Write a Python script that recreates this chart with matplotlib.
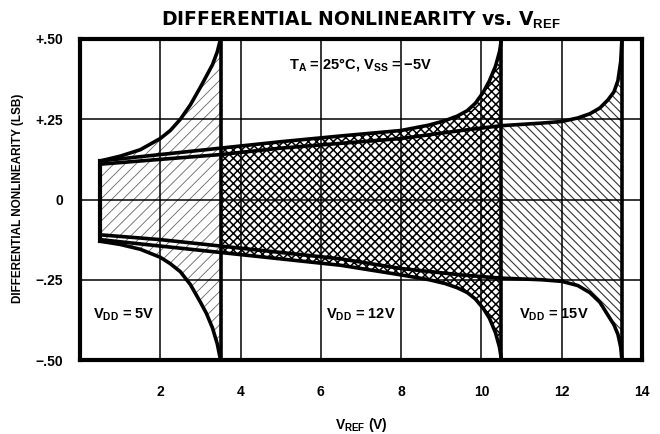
import numpy as np
import matplotlib
matplotlib.use("Agg")
import matplotlib.pyplot as plt

FONT = ['Liberation Sans', 'DejaVu Sans']
plt.rcParams['font.family'] = FONT
plt.rcParams['font.weight'] = 'bold'
plt.rcParams['mathtext.fontset'] = 'custom'
plt.rcParams['mathtext.rm'] = 'Liberation Sans:bold'
plt.rcParams['mathtext.bf'] = 'Liberation Sans:bold'
plt.rcParams['mathtext.it'] = 'Liberation Sans:bold'
plt.rcParams['hatch.color'] = 'black'

# envelopes (VREF in volts, DNL in LSB)
vdd5_x = [0.5, 1.0, 1.5, 2.0, 2.25, 2.5, 2.75, 3.0, 3.15, 3.3, 3.42, 3.5]
vdd5_hi = [0.12, 0.135, 0.155, 0.19, 0.215, 0.25, 0.295, 0.35, 0.385, 0.42, 0.46, 0.5]
vdd5_lo = [-0.13, -0.14, -0.155, -0.18, -0.2, -0.225, -0.265, -0.32, -0.355, -0.4, -0.45, -0.5]

vdd12_x = [0.5, 2.0, 3.5, 5.0, 6.5, 8.0, 8.7, 9.1, 9.4, 9.65, 9.85, 10.05, 10.2, 10.35, 10.45, 10.5]
vdd12_hi = [0.12, 0.14, 0.16, 0.18, 0.198, 0.215, 0.232, 0.246, 0.26, 0.277, 0.3, 0.335, 0.37, 0.415, 0.46, 0.5]
vdd12_lo = [-0.125, -0.145, -0.165, -0.185, -0.205, -0.235, -0.25, -0.262, -0.275, -0.29, -0.31, -0.34, -0.37, -0.415, -0.46, -0.5]

vdd15_x = [0.5, 2.0, 3.5, 5.0, 6.5, 8.0, 9.5, 10.5, 11.5, 12.0, 12.4, 12.7, 12.95, 13.15, 13.3, 13.4, 13.47, 13.5]
vdd15_hi = [0.11, 0.125, 0.14, 0.16, 0.175, 0.19, 0.215, 0.23, 0.238, 0.243, 0.254, 0.267, 0.285, 0.31, 0.335, 0.37, 0.43, 0.5]
vdd15_lo = [-0.11, -0.125, -0.145, -0.165, -0.185, -0.215, -0.235, -0.245, -0.25, -0.255, -0.268, -0.29, -0.32, -0.36, -0.39, -0.42, -0.46, -0.5]

x_ticks = [2, 4, 6, 8, 10, 12, 14]
y_ticks = [-0.5, -0.25, 0, 0.25, 0.5]
y_labels = ['\u2212.50', '\u2212.25', '0', '+.25', '+.50']
region_edges = [3.5, 10.5, 13.5]

fig = plt.figure(figsize=(6.6, 4.34), dpi=100)
ax = fig.add_axes([80 / 660, 1 - 360 / 434, 562 / 660, 321 / 434])
ax.set_xlim(0, 14)
ax.set_ylim(-0.5, 0.5)

# hatched regions, each in its own VREF range
with plt.rc_context({'hatch.linewidth': 0.6}):
    ax.fill_between(vdd5_x, vdd5_lo, vdd5_hi, facecolor='white',
                    edgecolor='#666666', hatch='///', linewidth=0, zorder=1)
x12 = np.array(vdd12_x)
with plt.rc_context({'hatch.linewidth': 1.1}):
    ax.fill_between(vdd12_x, vdd12_lo, vdd12_hi, where=x12 >= 3.5, facecolor='white',
                    edgecolor='black', hatch='xxxx', linewidth=0, zorder=1)
x15 = np.array(vdd15_x)
with plt.rc_context({'hatch.linewidth': 0.8}):
    ax.fill_between(vdd15_x, vdd15_lo, vdd15_hi, where=x15 >= 10.5, facecolor='white',
                    edgecolor='#333333', hatch='\\\\\\\\', linewidth=0, zorder=1)

# grid
for gx in x_ticks[:-1]:
    ax.axvline(gx, color='black', lw=1.1, zorder=2)
for gy in [-0.25, 0, 0.25]:
    ax.axhline(gy, color='black', lw=1.1, zorder=2)
for ex in region_edges:
    ax.axvline(ex, color='black', lw=2.6, zorder=3)

# envelope curves
for xs, hi, lo in [(vdd5_x, vdd5_hi, vdd5_lo), (vdd12_x, vdd12_hi, vdd12_lo),
                   (vdd15_x, vdd15_hi, vdd15_lo)]:
    ax.plot(xs, hi, color='black', lw=2.6, zorder=4, solid_capstyle='butt', solid_joinstyle='round')
    ax.plot(xs, lo, color='black', lw=2.6, zorder=4, solid_capstyle='butt', solid_joinstyle='round')
ax.plot([vdd5_x[0], vdd5_x[0]], [vdd5_lo[0], vdd5_hi[0]], color='black', lw=3, zorder=4)

for sp in ax.spines.values():
    sp.set_linewidth(3)
    sp.set_zorder(5)

ax.set_xticks(x_ticks)
ax.set_xticklabels([str(t) for t in x_ticks], fontsize=10, fontweight='bold')
ax.set_yticks(y_ticks)
ax.set_yticklabels(y_labels, fontsize=10, fontweight='bold')
ax.tick_params(axis='x', length=0, pad=18)
ax.tick_params(axis='y', length=0, pad=12)

ax.set_xlabel(r'V$_{\mathrm{REF}}$ (V)', fontsize=10, fontweight='bold', labelpad=12)
fig.text(18 / 660, 1 - 198 / 434, 'DIFFERENTIAL NONLINEARITY (LSB)', rotation=90,
         ha='center', va='center', fontsize=8.5, fontweight='bold')
ax.set_title(r'DIFFERENTIAL NONLINEARITY vs. V$_{\mathrm{REF}}$', fontsize=13.5,
             fontweight='bold', pad=10, family=['DejaVu Sans'])

ax.text(7.0, 0.42, 'T$_{\\mathrm{A}}$ = 25°C, V$_{\\mathrm{SS}}$ = \u22125V',
        ha='center', va='center', fontsize=10.5, fontweight='bold', zorder=6)
ax.text(1.1, -0.36, r'V$_{\mathrm{DD}}$ = 5V', ha='center', va='center',
        fontsize=10.5, fontweight='bold', zorder=6)
ax.text(7.0, -0.36, r'V$_{\mathrm{DD}}$ = 12V', ha='center', va='center',
        fontsize=10.5, fontweight='bold', zorder=6)
ax.text(11.8, -0.36, r'V$_{\mathrm{DD}}$ = 15V', ha='center', va='center',
        fontsize=10.5, fontweight='bold', zorder=6)

fig.savefig('out.png', dpi=100)
